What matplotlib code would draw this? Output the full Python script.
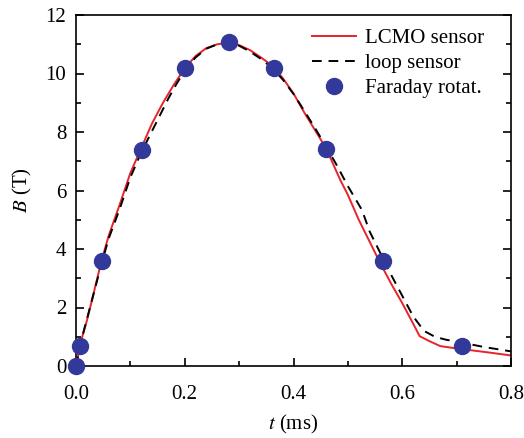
import matplotlib
matplotlib.use("Agg")
import matplotlib.pyplot as plt
from matplotlib.ticker import MultipleLocator

plt.rcParams["font.family"] = ["Liberation Serif", "DejaVu Serif"]
plt.rcParams["mathtext.fontset"] = "stix"
plt.rcParams["font.size"] = 15

# LCMO sensor
t_lcmo = [0.000, 0.005, 0.010, 0.020, 0.030, 0.047, 0.060, 0.080, 0.100, 0.120, 0.140,
          0.160, 0.180, 0.200, 0.220, 0.240, 0.260, 0.280, 0.300, 0.320, 0.340, 0.360,
          0.380, 0.400, 0.420, 0.440, 0.460, 0.486, 0.500, 0.520, 0.540, 0.560, 0.580,
          0.600, 0.620, 0.632, 0.650, 0.670, 0.700, 0.730, 0.760, 0.800]
b_lcmo = [0.00, 0.45, 0.90, 1.55, 2.30, 3.60, 4.45, 5.50, 6.60, 7.45, 8.30,
          9.00, 9.62, 10.18, 10.60, 10.87, 11.00, 11.05, 10.97, 10.80, 10.55, 10.28,
          9.85, 9.32, 8.66, 8.05, 7.44, 6.36, 5.85, 5.00, 4.25, 3.50, 2.80,
          2.15, 1.45, 1.02, 0.85, 0.68, 0.60, 0.53, 0.46, 0.36]

# loop sensor
t_loop = [0.000, 0.010, 0.020, 0.030, 0.047, 0.060, 0.080, 0.100, 0.120, 0.150, 0.170,
          0.185, 0.200, 0.220, 0.240, 0.260, 0.280, 0.300, 0.320, 0.340, 0.360, 0.380,
          0.400, 0.420, 0.440, 0.460, 0.480, 0.500, 0.526, 0.540, 0.560, 0.580, 0.600,
          0.620, 0.640, 0.660, 0.680, 0.710, 0.750, 0.800]
b_loop = [0.00, 0.90, 1.60, 2.30, 3.50, 4.35, 5.35, 6.45, 7.30, 8.41, 9.15,
          9.65, 10.10, 10.55, 10.85, 11.00, 11.02, 10.95, 10.75, 10.50, 10.20, 9.80,
          9.30, 8.72, 8.12, 7.50, 6.85, 6.15, 5.33, 4.60, 3.85, 3.10, 2.40,
          1.70, 1.20, 1.00, 0.90, 0.80, 0.65, 0.50]

# Faraday rotation
t_far = [0.000, 0.007, 0.047, 0.121, 0.201, 0.282, 0.364, 0.460, 0.564, 0.710]
b_far = [0.00, 0.68, 3.60, 7.40, 10.20, 11.07, 10.20, 7.42, 3.60, 0.69]

fig = plt.figure(figsize=(5.24, 4.38), dpi=100)
ax = fig.add_axes([76 / 524, 1 - 366 / 438, 435 / 524, 351 / 438])

ax.plot(t_lcmo, b_lcmo, color="#e8232b", lw=1.4, label="LCMO sensor")
ax.plot(t_loop, b_loop, color="black", lw=1.4, ls=(0, (5, 3.5)), label="loop sensor")
ax.plot(t_far, b_far, "o", color="#33399a", ms=11.5, ls="none", label="Faraday rotat.",
        clip_on=False, zorder=5)

ax.set_xlim(0, 0.8)
ax.set_ylim(0, 12)
ax.xaxis.set_major_locator(MultipleLocator(0.2))
ax.xaxis.set_minor_locator(MultipleLocator(0.1))
ax.yaxis.set_major_locator(MultipleLocator(2))
ax.yaxis.set_minor_locator(MultipleLocator(1))
ax.xaxis.set_major_formatter(plt.FormatStrFormatter("%.1f"))
ax.tick_params(which="both", direction="in", right=True, top=False, width=1.2)
ax.tick_params(which="major", length=6, labelsize=15)
ax.tick_params(axis="x", which="major", pad=14)
ax.tick_params(axis="y", which="major", pad=7)
ax.tick_params(which="minor", length=3.5)
for s in ax.spines.values():
    s.set_linewidth(1.2)

ax.set_xlabel("$t$ (ms)", fontsize=15, labelpad=6)
ax.set_ylabel("$B$ (T)", fontsize=15, labelpad=8)

ax.legend(loc="upper right", bbox_to_anchor=(1 - 6 / 435, 1 + 7 / 351), frameon=False,
          fontsize=15, handlelength=2.1, handletextpad=0.45, labelspacing=0.25,
          borderaxespad=0.6)

fig.savefig("out.png", dpi=100)
